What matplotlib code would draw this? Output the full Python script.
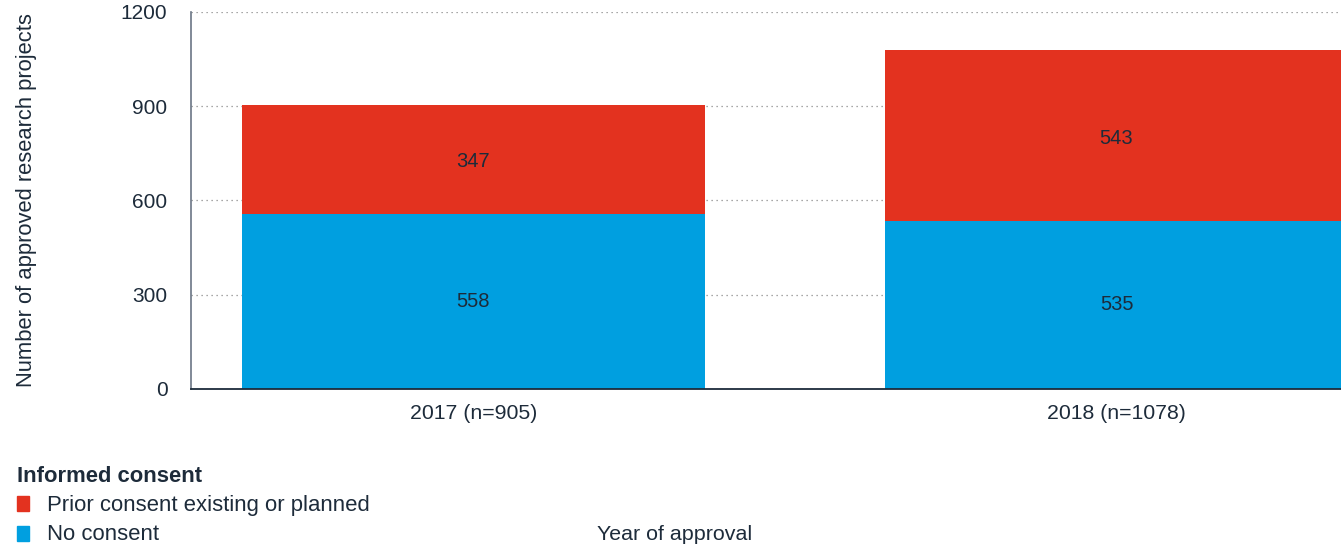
import matplotlib.pyplot as plt
from matplotlib.patches import Rectangle

# data
years = ['2017 (n=905)', '2018 (n=1078)']
no_consent = [558, 535]
prior_consent = [347, 543]
y_ticks = [0, 300, 600, 900, 1200]

red = '#E3321F'
blue = '#009FE0'
txt = '#1d2b3a'

plt.rcParams['font.family'] = ['Liberation Sans', 'DejaVu Sans']

fig = plt.figure(figsize=(13.41, 5.47), dpi=100)
ax = fig.add_axes([191/1341, 1-389/547, 1-191/1341, 377/547])

x = [0, 1]
w = 0.72
ax.bar(x, no_consent, width=w, color=blue, zorder=2)
ax.bar(x, prior_consent, width=w, bottom=no_consent, color=red, zorder=2)

# numbers inside the segments
for i in range(len(x)):
    ax.text(x[i], no_consent[i]/2, str(no_consent[i]), ha='center', va='center',
            fontsize=14.5, color=txt, zorder=3)
    ax.text(x[i], no_consent[i] + prior_consent[i]/2 - 8, str(prior_consent[i]),
            ha='center', va='center', fontsize=14.5, color=txt, zorder=3)

ax.set_xlim(-0.439, 1.349)
ax.set_ylim(0, 1200)
ax.set_yticks(y_ticks)
ax.set_xticks(x)
ax.set_xticklabels(years)
ax.tick_params(axis='y', length=0, pad=17, labelsize=15, labelcolor=txt)
ax.tick_params(axis='x', length=0, pad=10.5, labelsize=15.3, labelcolor=txt)

ax.grid(axis='y', linestyle=(0, (1, 3)), color='#8a8a8a', linewidth=0.9, zorder=0)
ax.grid(axis='x', visible=False)

for s in ['top', 'right']:
    ax.spines[s].set_visible(False)
ax.spines['left'].set_color('#6b7685')
ax.spines['left'].set_linewidth(1.2)
ax.spines['bottom'].set_color(txt)
ax.spines['bottom'].set_linewidth(1.3)

fig.text(27/1341, 1-200/547, 'Number of approved research projects', rotation=90,
         ha='center', va='center', fontsize=15.8, color=txt)

# legend drawn by hand
fig.text(17/1341, 1-477/547, 'Informed consent', fontweight='bold', fontsize=15.8,
         color=txt, va='center', ha='left')
fig.patches.append(Rectangle((17/1341, 1-511/547), 12/1341, 15/547, color=red,
                             transform=fig.transFigure, figure=fig))
fig.text(47/1341, 1-505/547, 'Prior consent existing or planned', fontsize=15.9,
         color=txt, va='center', ha='left')
fig.patches.append(Rectangle((17/1341, 1-541/547), 12/1341, 15/547, color=blue,
                             transform=fig.transFigure, figure=fig))
fig.text(47/1341, 1-535/547, 'No consent', fontsize=15.9,
         color=txt, va='center', ha='left')

fig.text(597/1341, 1-534/547, 'Year of approval', fontsize=15.4,
         color=txt, va='center', ha='left')

fig.savefig('out.png', dpi=100)
